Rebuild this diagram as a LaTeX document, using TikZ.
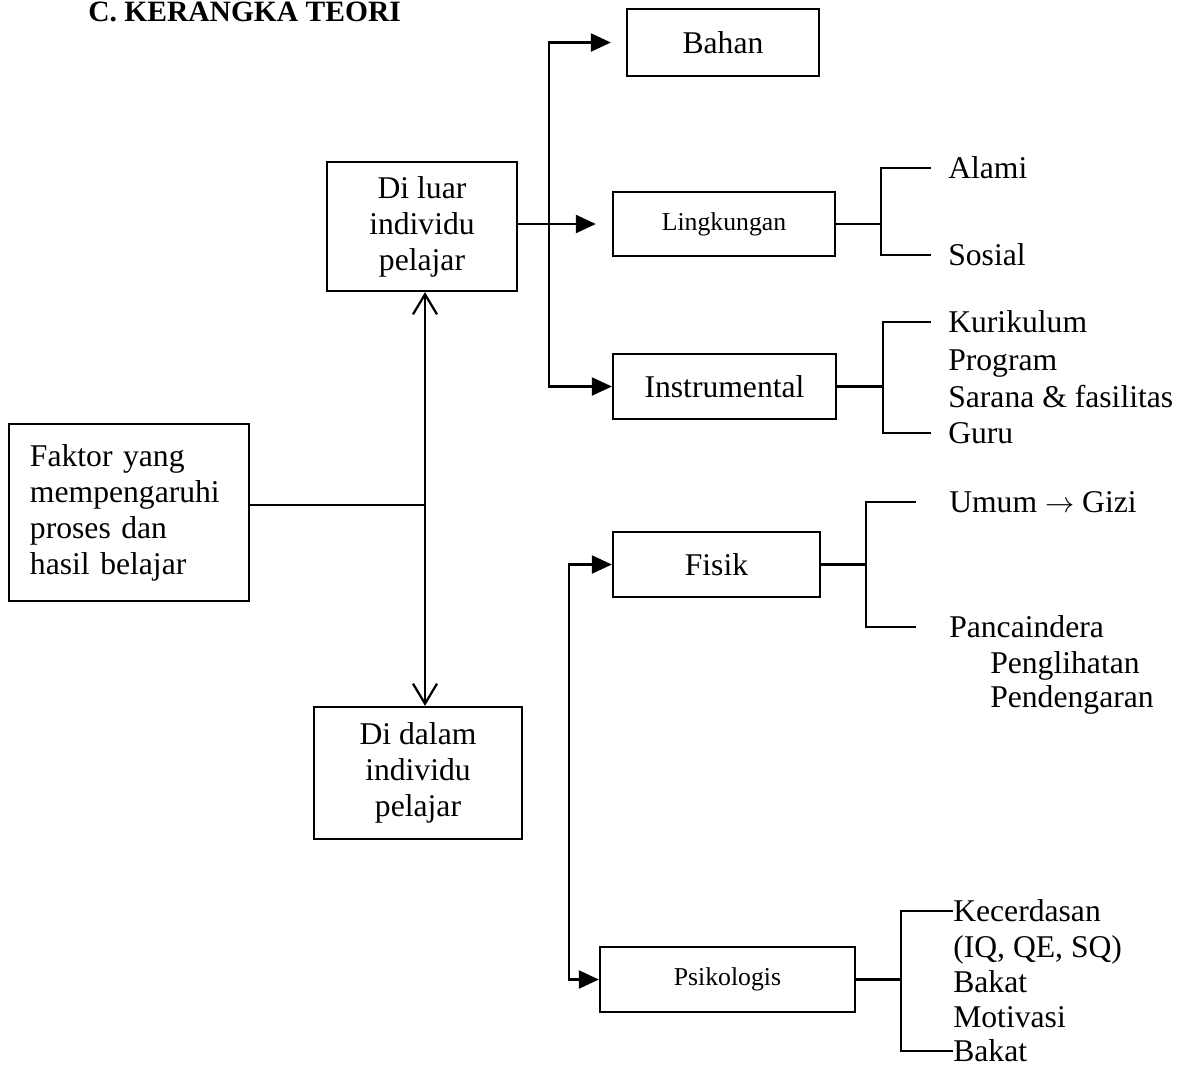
\documentclass[tikz,border=0pt]{standalone}
\usepackage{fontspec}
\setmainfont{Liberation Serif}
\usetikzlibrary{arrows.meta,positioning}
\tikzstyle{box}=[draw,rectangle,line width=1.6pt,inner sep=0pt,align=center,font=\fontsize{22.5}{25.6}\selectfont]
\tikzstyle{smallbox}=[box,font=\fontsize{18.3}{22}\selectfont]
\tikzstyle{edge} = [draw,line width=1.6pt,-{Triangle[length=0.5cm,width=0.45cm]}]
\tikzstyle{twoway} = [draw,line width=1.6pt,-{Straight Barb[length=0.5cm,width=0.6cm]}]
\tikzstyle{undirectededge} = [draw,line width=1.6pt,line cap=rect]
\tikzstyle{leaf} = [inner sep=0pt,anchor=west,text height=0.53cm,text depth=0pt,font=\fontsize{22.5}{25.6}\selectfont]

\begin{document}
\begin{tikzpicture}[x=0.025cm,y=-0.025cm]
\useasboundingbox (0,0) rectangle (1180,1068);

    % Title
    \node[anchor=base west,inner sep=0pt,font=\bfseries\fontsize{21}{25}\selectfont] (title) at (88,21) {C. KERANGKA TEORI};

    % First we draw the boxes
    \node[box,minimum width=6cm,minimum height=4.425cm,text width=4.95cm,align=left] (faktor) at (129,512.5) {Faktor yang\\mempengaruhi\\proses dan\\hasil belajar};
    \node[box,minimum width=4.75cm,minimum height=3.225cm] (luar) at (422,226.5) {Di luar\\individu\\pelajar};
    \node[box,minimum width=5.2cm,minimum height=3.3cm] (dalam) at (418,773) {Di dalam\\individu\\pelajar};
    \node[box,minimum width=4.8cm,minimum height=1.675cm] (bahan) at (723,42.5) {Bahan};
    \node[smallbox,minimum width=5.55cm,minimum height=1.6cm] (lingk) at (724,224) {Lingkungan};
    \node[box,minimum width=5.575cm,minimum height=1.625cm] (instr) at (724.5,386.5) {Instrumental};
    \node[box,minimum width=5.175cm,minimum height=1.625cm] (fisik) at (716.5,564.5) {Fisik};
    \node[smallbox,minimum width=6.375cm,minimum height=1.625cm] (psiko) at (727.5,979.5) {Psikologis};

    % Then the lists on the right
    \foreach \pos/\name/\label in {{(948,168)/alami/Alami}, {(948,255)/sosial/Sosial},
        {(948,322)/kurikulum/Kurikulum}, {(948,360)/program/Program}, {(948,397)/sarana/Sarana \& fasilitas}, {(948,433)/guru/Guru},
        {(949,502)/umum/Umum $\rightarrow$ Gizi}, {(949,627)/panca/Pancaindera}, {(990,663)/lihat/Penglihatan}, {(990,697)/dengar/Pendengaran},
        {(953,911)/kecerdasan/Kecerdasan}, {(953,947)/iq/{(IQ, QE, SQ)}}, {(953,982)/bakatA/Bakat}, {(953,1017)/motivasi/Motivasi}, {(953,1051)/bakatB/Bakat}}
        \node[leaf] (\name) at \pos {\label};

    % Connect the boxes
    \coordinate (junc) at (425,505);
    \path[undirectededge] (faktor.east |- junc) -- (junc);
    \path[twoway] (junc) -- (junc |- luar.south);
    \path[twoway] (junc) -- (junc |- dalam.north);

    \coordinate (trunk) at (549,224);
    \path[edge] (luar.east |- trunk) -- ([xshift=-0.4cm]lingk.west);
    \path[edge] (trunk) |- ([xshift=-0.375cm]bahan.west);
    \path[edge] (trunk) |- (instr.west);

    \coordinate (trunkB) at (569,770);
    \path[edge] (trunkB) |- (fisik.west);
    \path[edge] (trunkB) |- (psiko.west);

    % Brackets from box to list
    \foreach \src/\col/\first/\last/\gap in {lingk/881/alami/sosial/18, instr/883/kurikulum/guru/18, fisik/866/umum/panca/34, psiko/901/kecerdasan/bakatB/1}
    {
        \coordinate (col) at (\col,0);
        \path[undirectededge] (\src.east) -- (\src.east -| col);
        \path[undirectededge] (\first.west) ++(-\gap,0) -| (\last.west -| col);
        \path[undirectededge] (\last.west) ++(-\gap,0) -- (\last.west -| col);
    }

\end{tikzpicture}
\end{document}
